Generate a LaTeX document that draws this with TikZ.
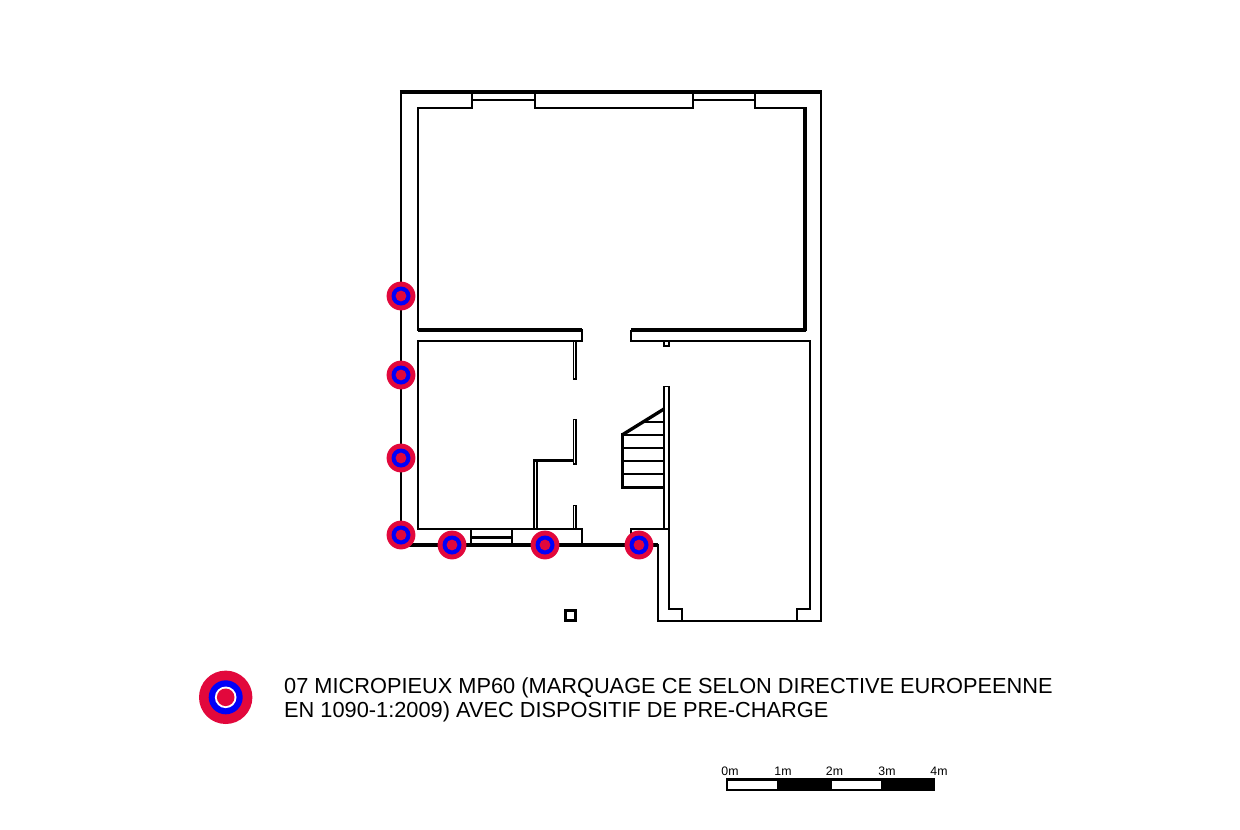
\documentclass[tikz,border=0pt]{standalone}
\usepackage{fontspec}
\setmainfont{Liberation Sans}
\definecolor{pilered}{RGB}{226,8,60}
\definecolor{pileblue}{RGB}{0,0,250}
\tikzset{
  wall/.style={draw=black,line width=2.8pt,line join=miter,line cap=butt},
  thinwall/.style={draw=black,line width=1.7pt,line join=miter,line cap=butt},
  heavy/.style={draw=black,line width=3.3pt,line join=miter},
  legendtext/.style={anchor=base west,inner sep=0pt,font=\fontsize{21.78}{24}\selectfont},
  scaletext/.style={anchor=base,inner sep=0pt,font=\fontsize{12.3}{13}\selectfont,text=black},
  pile/.pic={
    \fill[pilered] (0,0) circle[radius=14.4];
    \fill[pileblue] (0,0) circle[radius=9.5];
    \fill[pilered] (0,0) circle[radius=5.4];
  }
}
\begin{document}
\begin{tikzpicture}[x=1pt,y=-1pt]
\useasboundingbox (0,0) rectangle (1240,830);
\fill[white] (0,0) rectangle (1240,830);
% outer walls
\draw[wall] (401,92) -- (821,92) -- (821,621) -- (658,621) -- (658,545) -- (401,545) -- cycle;
\draw[heavy] (399.8,92) -- (822.2,92);
\draw[heavy] (401,545) -- (658,545);
% upper room
\draw[wall] (472,92) -- (472,108) -- (418,108) -- (418,330) -- (582,330) -- (582,341) -- (418,341) -- (418,529) -- (582,529) -- (582,545);
\draw[wall] (755,92) -- (755,108) -- (805,108);
\draw[wall] (535,92) -- (535,108) -- (693,108) -- (693,92);
\draw[wall] (472,100) -- (535,100) (693,100) -- (755,100);
\draw[heavy] (805,107) -- (805,331.2);
\draw[heavy] (418,330) -- (582,330) (806,330) -- (631,330);
\draw[wall] (631,330) -- (631,341) -- (810,341) -- (810,609) -- (797,609) -- (797,621);
% garage
\draw[wall] (669,386) -- (669,609) -- (682,609) -- (682,621);
\draw[thinwall] (664.2,529) -- (664.2,386.5) -- (669,386.5);
\draw[wall] (631,545) -- (631,529) -- (669,529);
\draw[thinwall] (664,341) -- (664,346) -- (669,346) -- (669,341);
% interior partitions
\draw[thinwall] (573.5,341) -- (573.5,379) -- (576,379) -- (576,341);
\draw[thinwall] (573.5,464) -- (573.5,419.5) -- (576,419.5) -- (576,464) -- cycle;
\draw[thinwall] (573.5,529) -- (573.5,505.5) -- (576,505.5) -- (576,529);
\draw[heavy] (534,460.5) -- (574,460.5);
\draw[thinwall] (534.2,529) -- (534.2,459) (536.8,529) -- (536.8,462);
% lower window
\draw[wall] (471,529) -- (471,545) (512,529) -- (512,545);
\draw[heavy] (471,537.7) -- (512,537.7);
% stairs
\draw[heavy] (622.5,433) -- (622.5,489);
\draw[heavy] (622,435) -- (664,409);
\draw[wall] (643,422) -- (664,422);
\draw[wall] (622,435) -- (664,435) (622,448) -- (664,448) (622,461) -- (664,461) (622,474) -- (664,474);
\draw[heavy] (622,487.2) -- (664,487.2);
% free standing post
\draw[wall] (565.5,610.5) rectangle (575.5,620.5);
% piles
\foreach \px/\py in {401/296,401/375,401/458,401/535,452/545,545/545,639/545}
  \pic at (\px,\py) {pile};
% legend
\fill[pilered] (225.7,697.3) circle[radius=26.7];
\fill[pileblue] (225.7,697.3) circle[radius=17];
\fill[white] (225.7,697.3) circle[radius=10.8];
\fill[pilered] (225.7,697.3) circle[radius=8.8];
\node[legendtext] (l1) at (284,693.5) {07 MICROPIEUX MP60 (MARQUAGE CE SELON DIRECTIVE EUROPEENNE};
\node[legendtext] (l2) at (284,717.5) {EN 1090-1:2009) AVEC DISPOSITIF DE PRE-CHARGE};
% scale bar
\fill[black] (725.7,777.7) rectangle (935,790.5);
\fill[white] (727.5,780.5) rectangle (777,788.7);
\fill[white] (832,780.5) rectangle (881,788.7);
\foreach \sx/\st in {730/0m,783/1m,834.5/2m,887/3m,939/4m}
  \node[scaletext] at (\sx,775.7) {\st};
\end{tikzpicture}
\end{document}
